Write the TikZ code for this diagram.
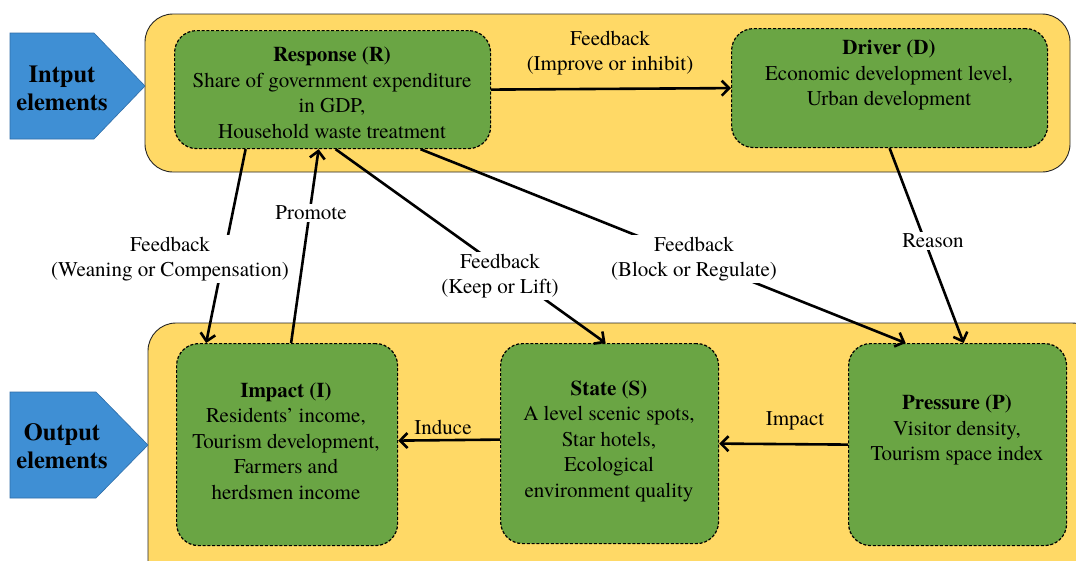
\documentclass[tikz,border=0pt]{standalone}
\usepackage{fontspec}
\setmainfont{TeX Gyre Termes}
\usetikzlibrary{arrows.meta,calc}
\definecolor{yel}{HTML}{FFD966}
\definecolor{grn}{HTML}{6AA544}
\definecolor{blu}{HTML}{3F8FD4}
\definecolor{bluedge}{HTML}{2E6DA8}
\begin{document}
\begin{tikzpicture}[x=1pt,y=-1pt,
  outer/.style={draw=black!85, line width=0.9pt, fill=yel, rounded corners=28pt},
  elem/.style={draw=black, line width=1.2pt, dash pattern=on 3pt off 1.8pt, fill=grn, rounded corners=22pt, inner sep=0pt},
  conn/.style={line width=2.6pt, -{Straight Barb[length=7.5pt,width=15pt,line width=2.6pt]}},
  lbl/.style={font=\fontsize{21}{25.5}\selectfont, align=center, fill=white, inner sep=1.5pt},
  lblnf/.style={font=\fontsize{21}{25.5}\selectfont, align=center, inner sep=1pt},
  body/.style={font=\fontsize{21}{25.5}\selectfont, align=center, inner sep=0pt, text=black},
  side/.style={fill=blu, draw=bluedge, line width=0.6pt},
  sidetxt/.style={font=\fontsize{24.5}{28}\selectfont\bfseries, align=center, inner sep=0pt},
]
\useasboundingbox (0,0) rectangle (1076,560);
\clip (0,0) rectangle (1076,560);
\fill[white] (0,0) rectangle (1076,560);

% outer containers
\draw[outer] (145,14) rectangle (1070,172);
\draw[outer] (148,323) rectangle (1100,600);

% side arrows
\draw[side] (10,33) -- (94,33) -- (145,86) -- (94,139) -- (10,139) -- cycle;
\node[sidetxt] (inp) at (62,88) {Intput\\elements};
\draw[side] (10,392) -- (96,392) -- (148,445) -- (96,498) -- (10,498) -- cycle;
\node[sidetxt] (outp) at (62,446) {Output\\elements};

% element boxes
\node[elem, anchor=north west, minimum width=316pt, minimum height=118pt] (R) at (174,30) {};
\node[elem, anchor=north west, minimum width=316pt, minimum height=119pt] (D) at (731,28) {};
\node[elem, anchor=north west, minimum width=221pt, minimum height=202pt] (I) at (176,343) {};
\node[elem, anchor=north west, minimum width=218pt, minimum height=200pt] (S) at (500,343) {};
\node[elem, anchor=north west, minimum width=218pt, minimum height=202pt] (P) at (848,343) {};

% texts inside boxes
\node[body] (Rt) at (332,93) {\textbf{Response (R)}\\Share of government expenditure\\in GDP,\\Household waste treatment};
\node[body] (Dt) at (889,75) {\textbf{Driver (D)}\\Economic development level,\\Urban development};
\node[body] (It) at (286,441) {\textbf{Impact (I)}\\Residents' income,\\Tourism development,\\Farmers and\\herdsmen income};
\node[body] (St) at (609,441) {\textbf{State (S)}\\A level scenic spots,\\Star hotels,\\Ecological\\environment quality};
\node[body] (Pt) at (957,430) {\textbf{Pressure (P)}\\Visitor density,\\Tourism space index};

% connectors
\draw[conn] (R.east) -- (D.west);
\draw[conn] ([yshift=4pt]S.west) -- ([yshift=4pt]I.east);
\draw[conn] (P.west) -- (S.east);
\draw[conn] ([xshift=-87pt]R.south) -- ([xshift=-81pt]I.north);
\draw[conn] ([xshift=4pt]I.north) -- ([xshift=-14pt]R.south);
\draw[conn] ([xshift=3pt]R.south) -- ([xshift=-4pt]S.north);
\draw[conn] ([xshift=88pt]R.south) -- ([xshift=-52pt]P.north);
\draw[conn] (D.south) -- ([xshift=6pt]P.north);

% connector labels
\node[lblnf] (l1) at (610,53) {Feedback\\(Improve or inhibit)};
\node[lblnf] (l2) at (443,427) {Induce};
\node[lblnf] (l3) at (795,421) {Impact};
\node[lbl] (l4) at (170,259) {Feedback\\(Weaning or Compensation)};
\node[lbl] (l5) at (311,213) {Promote};
\node[lbl] (l6) at (500,276) {Feedback\\(Keep or Lift)};
\node[lbl] (l7) at (694,259) {Feedback\\(Block or Regulate)};
\node[lbl] (l8) at (933,241) {Reason};
\end{tikzpicture}
\end{document}
